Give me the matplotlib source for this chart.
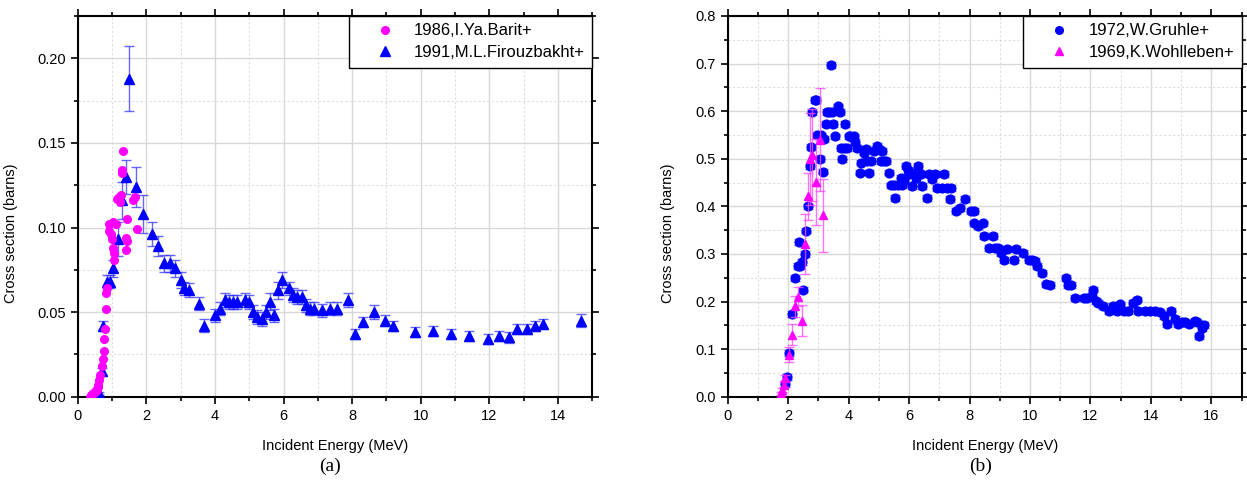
import matplotlib
matplotlib.use('Agg')
import matplotlib.pyplot as plt
from matplotlib.lines import Line2D
from matplotlib.ticker import MultipleLocator, FormatStrFormatter

plt.rcParams['font.family'] = ['Liberation Sans', 'DejaVu Sans']

# ---- panel (a) data ----
barit_x = [0.36, 0.40, 0.42, 0.46, 0.50, 0.52, 0.55, 0.58, 0.60, 0.63, 0.66, 0.70, 0.73,
           0.76, 0.78, 0.80, 0.82, 0.83, 0.85, 0.90, 0.92, 0.97, 0.99, 1.04, 1.04, 1.06,
           1.07, 1.12, 1.14, 1.20, 1.23, 1.25, 1.28, 1.29, 1.31, 1.40, 1.41, 1.43, 1.44,
           1.62, 1.67, 1.72]
barit_y = [0.000, 0.001, 0.001, 0.002, 0.003, 0.004, 0.004, 0.006, 0.007, 0.010, 0.013,
           0.018, 0.022, 0.027, 0.034, 0.040, 0.052, 0.061, 0.064, 0.098, 0.102, 0.096,
           0.093, 0.103, 0.088, 0.085, 0.081, 0.102, 0.117, 0.118, 0.115, 0.119, 0.134,
           0.132, 0.145, 0.094, 0.087, 0.105, 0.092, 0.116, 0.118, 0.099]

firouz_x = [0.63, 0.70, 0.75, 0.84, 0.94, 1.04, 1.17, 1.28, 1.41, 1.50, 1.69, 1.89, 2.16,
            2.35, 2.52, 2.69, 2.84, 3.00, 3.10, 3.25, 3.54, 3.67, 4.00, 4.15, 4.28, 4.41,
            4.52, 4.65, 4.88, 5.00, 5.12, 5.24, 5.36, 5.49, 5.61, 5.72, 5.83, 5.96, 6.17,
            6.29, 6.40, 6.53, 6.65, 6.77, 6.89, 7.11, 7.34, 7.55, 7.89, 8.09, 8.33, 8.65,
            8.96, 9.20, 9.84, 10.37, 10.89, 11.42, 11.95, 12.27, 12.58, 12.80, 13.11,
            13.33, 13.57, 14.67]
firouz_y = [0.002, 0.015, 0.042, 0.068, 0.068, 0.076, 0.093, 0.116, 0.130, 0.188, 0.124,
            0.108, 0.096, 0.089, 0.079, 0.079, 0.076, 0.069, 0.064, 0.063, 0.055, 0.042,
            0.048, 0.052, 0.057, 0.056, 0.056, 0.056, 0.057, 0.056, 0.050, 0.047, 0.046,
            0.050, 0.056, 0.048, 0.063, 0.069, 0.064, 0.060, 0.059, 0.059, 0.054, 0.052,
            0.052, 0.051, 0.052, 0.052, 0.057, 0.037, 0.044, 0.050, 0.045, 0.042, 0.038,
            0.039, 0.037, 0.036, 0.034, 0.036, 0.035, 0.040, 0.040, 0.042, 0.043, 0.045]
firouz_err = [0.001, 0.002, 0.003, 0.004, 0.004, 0.005, 0.010, 0.011, 0.010, 0.019, 0.012,
              0.011, 0.007, 0.006, 0.005, 0.005, 0.005, 0.005, 0.004, 0.004, 0.004, 0.004,
              0.004, 0.004, 0.004, 0.004, 0.004, 0.004, 0.004, 0.004, 0.004, 0.004, 0.004,
              0.004, 0.005, 0.004, 0.005, 0.005, 0.004, 0.004, 0.004, 0.004, 0.004, 0.004,
              0.004, 0.004, 0.004, 0.004, 0.004, 0.003, 0.003, 0.004, 0.003, 0.003, 0.003,
              0.003, 0.003, 0.003, 0.003, 0.003, 0.003, 0.003, 0.003, 0.003, 0.003, 0.004]

# ---- panel (b) data ----
gruhle_x = [1.90, 1.97, 2.03, 2.13, 2.24, 2.31, 2.36, 2.38, 2.45, 2.49, 2.55, 2.60, 2.66,
            2.73, 2.76, 2.79, 2.88, 2.93, 2.96, 3.04, 3.07, 3.14, 3.20, 3.26, 3.29, 3.36,
            3.40, 3.44, 3.49, 3.56, 3.64, 3.71, 3.75, 3.79, 3.84, 3.87, 3.93, 4.00, 4.06,
            4.12, 4.17, 4.21, 4.28, 4.37, 4.42, 4.51, 4.56, 4.62, 4.67, 4.73, 4.84, 4.95,
            5.00, 5.06, 5.12, 5.17, 5.23, 5.34, 5.39, 5.50, 5.54, 5.62, 5.72, 5.78, 5.83,
            5.89, 5.95, 6.00, 6.11, 6.11, 6.22, 6.28, 6.39, 6.42, 6.59, 6.67, 6.76, 6.86,
            6.94, 7.09, 7.14, 7.24, 7.36, 7.39, 7.55, 7.69, 7.86, 8.05, 8.14, 8.16, 8.28,
            8.44, 8.49, 8.66, 8.77, 8.84, 8.94, 9.05, 9.15, 9.25, 9.46, 9.55, 9.77, 9.98,
            10.07, 10.16, 10.24, 10.40, 10.54, 10.65, 11.19, 11.26, 11.37, 11.50, 11.79,
            11.90, 12.04, 12.09, 12.18, 12.26, 12.43, 12.61, 12.76, 12.87, 12.99, 13.10,
            13.25, 13.42, 13.53, 13.59, 13.81, 13.98, 14.15, 14.31, 14.42, 14.53, 14.67,
            14.80, 14.91, 15.02, 15.13, 15.25, 15.45, 15.53, 15.58, 15.69, 15.75]
gruhle_y = [0.027, 0.042, 0.092, 0.174, 0.249, 0.275, 0.325, 0.275, 0.283, 0.225, 0.300,
            0.349, 0.400, 0.484, 0.524, 0.599, 0.624, 0.624, 0.549, 0.499, 0.549, 0.473,
            0.541, 0.573, 0.599, 0.599, 0.697, 0.599, 0.573, 0.547, 0.610, 0.599, 0.522,
            0.499, 0.522, 0.573, 0.522, 0.547, 0.547, 0.545, 0.547, 0.535, 0.522, 0.471,
            0.492, 0.513, 0.521, 0.496, 0.471, 0.496, 0.517, 0.527, 0.521, 0.495, 0.517,
            0.495, 0.495, 0.471, 0.444, 0.444, 0.418, 0.444, 0.460, 0.444, 0.456, 0.485,
            0.476, 0.468, 0.471, 0.443, 0.460, 0.485, 0.468, 0.443, 0.417, 0.468, 0.457,
            0.468, 0.439, 0.439, 0.468, 0.439, 0.415, 0.439, 0.390, 0.397, 0.415, 0.390,
            0.390, 0.364, 0.359, 0.364, 0.338, 0.312, 0.338, 0.312, 0.312, 0.302, 0.288,
            0.310, 0.288, 0.310, 0.302, 0.288, 0.288, 0.285, 0.274, 0.260, 0.236, 0.234,
            0.249, 0.234, 0.234, 0.208, 0.208, 0.208, 0.211, 0.225, 0.201, 0.197, 0.190,
            0.180, 0.190, 0.180, 0.194, 0.180, 0.180, 0.197, 0.204, 0.180, 0.180, 0.180,
            0.180, 0.177, 0.170, 0.153, 0.180, 0.163, 0.153, 0.156, 0.156, 0.153, 0.160,
            0.156, 0.128, 0.144, 0.151]
gruhle_err = 0.006

wohl_x = [1.77, 1.81, 1.85, 1.90, 2.02, 2.13, 2.24, 2.33, 2.45, 2.55, 2.65, 2.72, 2.80,
          2.91, 3.05, 3.15]
wohl_y = [0.007, 0.014, 0.025, 0.039, 0.088, 0.130, 0.190, 0.210, 0.160, 0.321, 0.421,
          0.500, 0.508, 0.451, 0.540, 0.381]
wohl_err = [0.003, 0.004, 0.005, 0.006, 0.016, 0.022, 0.022, 0.020, 0.033, 0.063, 0.050,
            0.097, 0.097, 0.090, 0.108, 0.076]

MAG = '#ff00ff'
BLU = '#0000ff'

fig = plt.figure(figsize=(12.47, 5.03), dpi=100)
ax1 = fig.add_axes([0.0623, 0.2113, 0.4127, 0.7569])
ax2 = fig.add_axes([0.5836, 0.2113, 0.4120, 0.7569])


def style(ax, xmaj, ymaj, yfmt):
    ax.xaxis.set_major_locator(MultipleLocator(xmaj))
    ax.xaxis.set_minor_locator(MultipleLocator(xmaj / 2))
    ax.yaxis.set_major_locator(MultipleLocator(ymaj))
    ax.yaxis.set_minor_locator(MultipleLocator(ymaj / 2))
    ax.yaxis.set_major_formatter(FormatStrFormatter(yfmt))
    ax.grid(which='major', color='#d8d8d8', lw=1.0, ls='-')
    ax.grid(which='minor', color='#dcdcdc', lw=0.8, ls=(0, (2, 2)))
    ax.set_axisbelow(True)
    ax.tick_params(which='both', direction='out', top=True, right=True,
                   labeltop=False, labelright=False, labelsize=10.5, width=1.2)
    ax.tick_params(which='major', length=5)
    ax.tick_params(which='minor', length=3)
    for s in ax.spines.values():
        s.set_linewidth(1.5)
    ax.set_xlabel('Incident Energy (MeV)', fontsize=10.5)
    ax.set_ylabel('Cross section (barns)', fontsize=10.5)
    ax.xaxis.set_label_coords(0.5, -0.112)


def legend(ax, handles, labels):
    leg = ax.legend(handles, labels, loc='upper right', borderaxespad=0,
                    fancybox=False, edgecolor='black', framealpha=1, fontsize=12,
                    borderpad=0.45, handlelength=3.4, handletextpad=0.05,
                    labelspacing=0.4)
    leg.get_frame().set_linewidth(1.0)


# (a)
ax1.errorbar(firouz_x, firouz_y, yerr=firouz_err, fmt='^', color=BLU, ms=7,
             ecolor=(0.2, 0.2, 1.0, 0.75), elinewidth=1, capsize=3.5, capthick=1, zorder=3)
ax1.plot(barit_x, barit_y, 'o', color=MAG, ms=5.5, zorder=4)
ax1.set_xlim(0, 15)
ax1.set_ylim(0, 0.225)
style(ax1, 2, 0.05, '%.2f')
ax1.yaxis.set_label_coords(-0.116, 0.43)
legend(ax1, [Line2D([], [], ls='none', marker='o', color=MAG, ms=5.5),
             Line2D([], [], ls='none', marker='^', color=BLU, ms=7)],
       ['1986,I.Ya.Barit+', '1991,M.L.Firouzbakht+'])

# (b)
ax2.errorbar(gruhle_x, gruhle_y, yerr=gruhle_err, fmt='o', color=BLU, ms=6.3,
             ecolor=(0.2, 0.2, 1.0, 0.75), elinewidth=1, capsize=3.5, capthick=1, zorder=3)
ax2.errorbar(wohl_x, wohl_y, yerr=wohl_err, fmt='^', color=MAG, ms=6,
             ecolor=(1.0, 0.3, 1.0, 0.8), elinewidth=1, capsize=3.5, capthick=1, zorder=4)
ax2.set_xlim(0, 17)
ax2.set_ylim(0, 0.8)
style(ax2, 2, 0.1, '%.1f')
ax2.yaxis.set_label_coords(-0.103, 0.43)
legend(ax2, [Line2D([], [], ls='none', marker='o', color=BLU, ms=5.5),
             Line2D([], [], ls='none', marker='^', color=MAG, ms=6)],
       ['1972,W.Gruhle+', '1969,K.Wohlleben+'])

fig.text(0.2647, 0.072, '(a)', ha='center', va='center', fontsize=14,
         family=['Liberation Serif', 'DejaVu Serif'])
fig.text(0.786, 0.072, '(b)', ha='center', va='center', fontsize=14,
         family=['Liberation Serif', 'DejaVu Serif'])

fig.savefig('out.png', dpi=100)
